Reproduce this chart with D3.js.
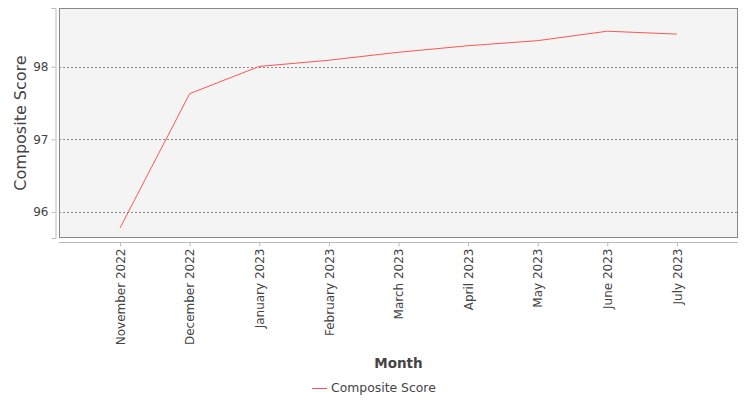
<!DOCTYPE html>
<html>
<head>
<meta charset="utf-8">
<script src="https://cdn.jsdelivr.net/npm/d3@7"></script>
<style>
  body { margin: 0; background: #fff; }
  svg { font-family: 'DejaVu Sans', sans-serif; }
</style>
</head>
<body>
<svg id="chart" width="750" height="400"></svg>
<script>
let months = ['November 2022', 'December 2022', 'January 2023', 'February 2023', 'March 2023',
    'April 2023', 'May 2023', 'June 2023', 'July 2023']
let scores = [95.78, 97.63, 98.005, 98.09, 98.2, 98.29, 98.36, 98.49, 98.45]
let yTicks = [96, 97, 98]
let seriesName = 'Composite Score'

let chart = d3.select('#chart')
let plotLeft = 59, plotRight = 738, plotTop = 8, plotBottom = 238

// scales
let xScale = d3.scalePoint()
    .domain(months)
    .range([plotLeft, plotRight])
    .padding(0.878)
let yScale = d3.scaleLinear()
    .domain([95.64, 98.81])
    .range([plotBottom, plotTop])

// plot background
chart.append('rect')
    .attr('x', plotLeft).attr('y', plotTop)
    .attr('width', plotRight - plotLeft).attr('height', plotBottom - plotTop)
    .attr('fill', '#f4f4f4')

// gridlines
chart.append('g')
    .selectAll('line')
    .data(yTicks)
    .enter()
    .append('line')
    .attr('x1', plotLeft).attr('x2', plotRight)
    .attr('y1', (d) => Math.round(yScale(d)) + 0.5)
    .attr('y2', (d) => Math.round(yScale(d)) + 0.5)
    .attr('stroke', '#888')
    .attr('stroke-dasharray', '2,2')

// plot border
chart.append('rect')
    .attr('x', plotLeft + 0.5).attr('y', plotTop + 0.5)
    .attr('width', plotRight - plotLeft - 1).attr('height', plotBottom - plotTop - 1)
    .attr('fill', 'none')
    .attr('stroke', '#888')

// y axis
let axisLeft = d3.axisLeft(yScale).tickValues(yTicks).tickSize(4).tickPadding(3).tickFormat(d3.format('d'))
let gy = chart.append('g')
    .attr('transform', 'translate(55.5,0)')
    .call(axisLeft)
gy.select('.domain').attr('stroke', '#bbb')
gy.selectAll('.tick line').attr('stroke', '#bbb')
gy.selectAll('text').attr('fill', '#444').style('font-size', '12px').style('font-family', 'DejaVu Sans')

// x axis
let axisBottom = d3.axisBottom(xScale).tickSize(4).tickPadding(3)
let gx = chart.append('g')
    .attr('transform', 'translate(0,242.5)')
    .call(axisBottom)
gx.select('.domain').attr('stroke', '#bbb').attr('d', 'M' + plotLeft + ',0H' + plotRight)
gx.selectAll('.tick line').attr('stroke', '#bbb')
gx.selectAll('text')
    .attr('fill', '#444')
    .style('font-size', '12px')
    .style('font-family', 'DejaVu Sans')
    .attr('text-anchor', 'end')
    .attr('transform', 'rotate(-90)')
    .attr('x', -6)
    .attr('y', 0)
    .attr('dy', '0.35em')

// line
let line = d3.line()
    .x((d, i) => xScale(months[i]))
    .y((d) => yScale(d))
chart.append('path')
    .datum(scores)
    .attr('d', line)
    .attr('fill', 'none')
    .attr('stroke', '#ff5555')
    .attr('stroke-width', 1)

// axis titles
chart.append('text')
    .attr('transform', 'translate(26,' + (plotTop + plotBottom) / 2 + ') rotate(-90)')
    .attr('text-anchor', 'middle')
    .attr('fill', '#444')
    .style('font-size', '16px')
    .text('Composite Score')
chart.append('text')
    .attr('x', (plotLeft + plotRight) / 2)
    .attr('y', 368)
    .attr('text-anchor', 'middle')
    .attr('fill', '#444')
    .style('font-size', '13.5px')
    .style('font-weight', 'bold')
    .text('Month')

// legend
chart.append('line')
    .attr('x1', 312).attr('x2', 327)
    .attr('y1', 388.5).attr('y2', 388.5)
    .attr('stroke', '#ff5555')
chart.append('text')
    .attr('x', 331).attr('y', 392)
    .attr('fill', '#444')
    .style('font-size', '12.4px')
    .text(seriesName)
</script>
</body>
</html>
